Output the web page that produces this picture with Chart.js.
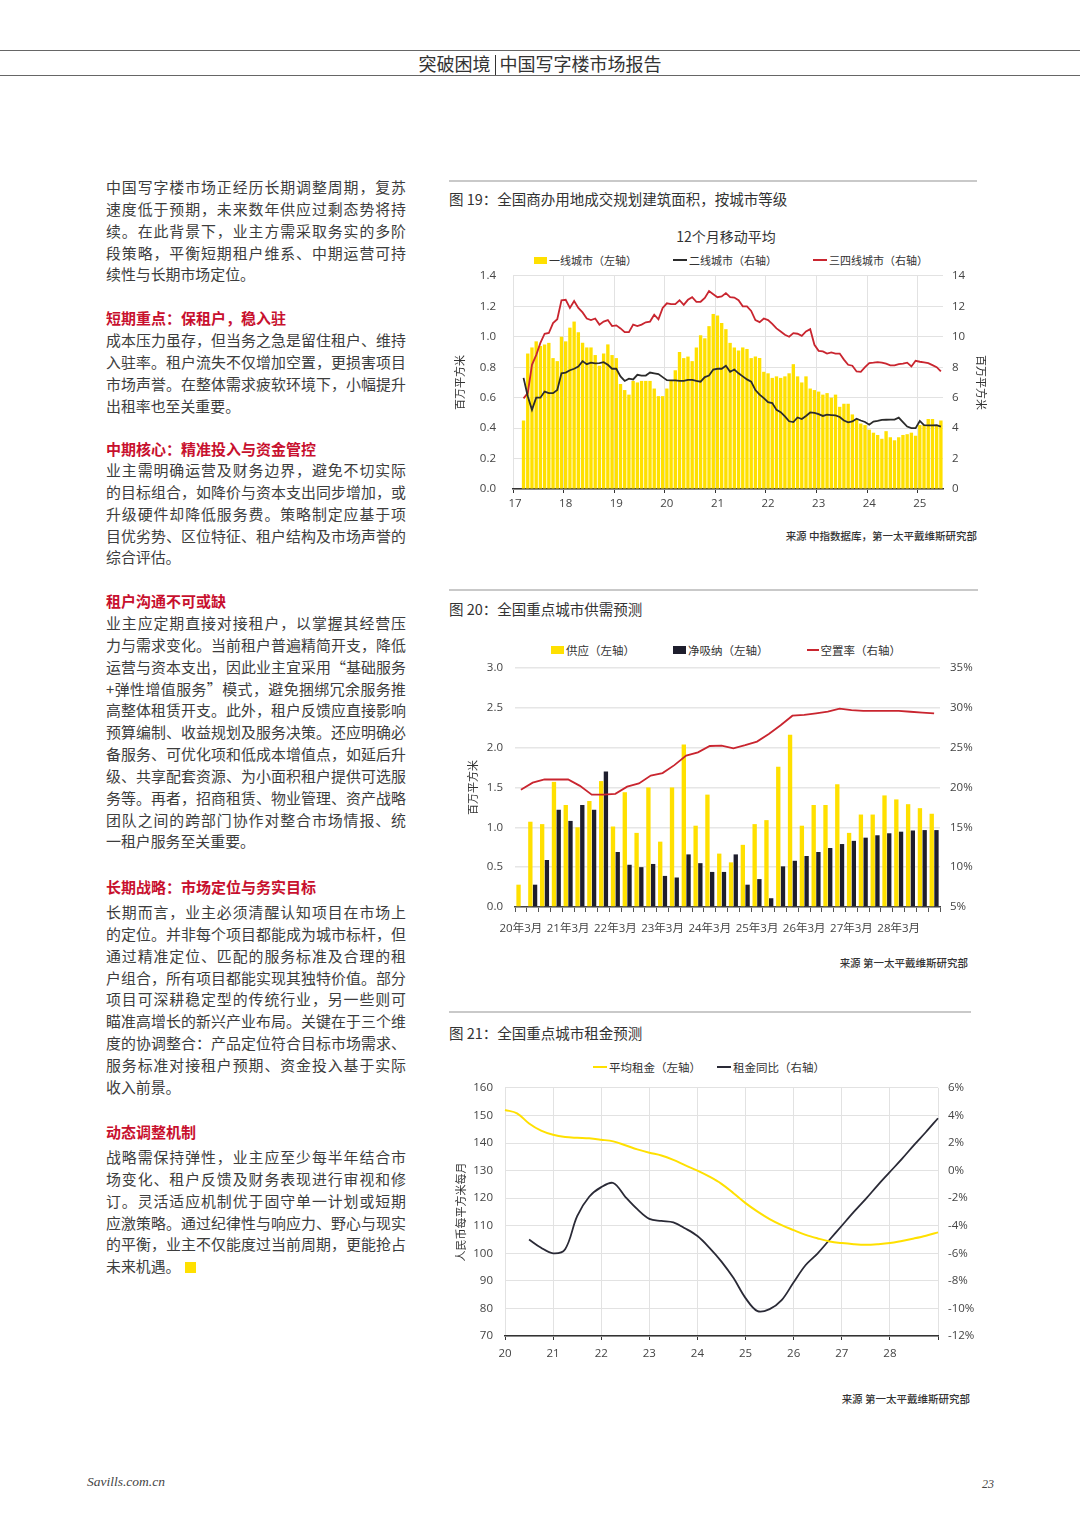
<!DOCTYPE html>
<html lang="zh-CN">
<head>
<meta charset="UTF-8">
<title>突破困境 | 中国写字楼市场报告</title>
<script src="https://cdn.jsdelivr.net/npm/chart.js@4.4.1/dist/chart.umd.min.js"></script>
<style>
  html, body { margin: 0; padding: 0; background: #fff; }
  body {
    width: 1080px; height: 1527px; position: relative; overflow: hidden;
    font-family: 'Noto Sans CJK SC', sans-serif; color: #3d3d3d;
  }
  .rule { position: absolute; left: 0; width: 1080px; height: 0; border-top: 1.5px solid #666; }
  #head {
    position: absolute; top: 52px; left: 0; width: 1080px; text-align: center;
    font-size: 18px; line-height: 22px; color: #333;
  }
  #head .bar { display: inline-block; width: 1px; height: 20px; background: #333; margin: 0 4px; vertical-align: -4px; }

  .col { position: absolute; left: 106px; width: 300px; font-size: 14.9px; line-height: 21.85px; }
  .col .l { display: block; text-align: justify; text-align-last: justify; white-space: nowrap; }
  .col .e { display: block; white-space: nowrap; }
  .col.h { font-weight: 700; color: #c8102e; font-size: 15px; }
  .endmark { display: inline-block; width: 11px; height: 11px; background: #FFE000; margin-left: 5px; vertical-align: -1px; }

  .sep { position: absolute; height: 2px; background: #c9c9c9; }
  .ctitle { position: absolute; left: 449px; font-size: 14.5px; line-height: 20px; color: #333; white-space: nowrap; }
  .src { position: absolute; font-size: 10.5px; line-height: 14px; color: #333; font-weight: 500; white-space: nowrap; text-align: right; }
  .sub { position: absolute; font-size: 14px; line-height: 18px; color: #333; text-align: center; width: 300px; }

  .legend {
    position: absolute; width: 600px; height: 16px; display: flex; justify-content: center; align-items: center;
    font-family: 'Open Sans', 'Noto Sans CJK SC', sans-serif; font-size: 11.5px; color: #333; white-space: nowrap;
  }
  .legend .item { display: flex; align-items: center; }
  .legend .mk { display: inline-block; margin-right: 2px; }

  canvas { position: absolute; }
  .foot { position: absolute; font-family: 'Liberation Serif', serif; font-style: italic; color: #444; }
</style>
</head>
<body>

<div class="rule" style="top:50px"></div>
<div id="head">突破困境<span class="bar"></span>中国写字楼市场报告</div>
<div class="rule" style="top:75px"></div>

<!-- left text column -->
<div class="col" style="top:176px">
  <span class="l">中国写字楼市场正经历长期调整周期，复苏</span>
  <span class="l">速度低于预期，未来数年供应过剩态势将持</span>
  <span class="l">续。在此背景下，业主方需采取务实的多阶</span>
  <span class="l">段策略，平衡短期租户维系、中期运营可持</span>
  <span class="e">续性与长期市场定位。</span>
</div>

<div class="col h" style="top:307px">短期重点：保租户，稳入驻</div>
<div class="col" style="top:329px">
  <span class="l">成本压力虽存，但当务之急是留住租户、维持</span>
  <span class="l">入驻率。租户流失不仅增加空置，更损害项目</span>
  <span class="l">市场声誉。在整体需求疲软环境下，小幅提升</span>
  <span class="e">出租率也至关重要。</span>
</div>

<div class="col h" style="top:438px">中期核心：精准投入与资金管控</div>
<div class="col" style="top:459px">
  <span class="l">业主需明确运营及财务边界，避免不切实际</span>
  <span class="l">的目标组合，如降价与资本支出同步增加，或</span>
  <span class="l">升级硬件却降低服务费。策略制定应基于项</span>
  <span class="l">目优劣势、区位特征、租户结构及市场声誉的</span>
  <span class="e">综合评估。</span>
</div>

<div class="col h" style="top:590px">租户沟通不可或缺</div>
<div class="col" style="top:612px">
  <span class="l">业主应定期直接对接租户，以掌握其经营压</span>
  <span class="l">力与需求变化。当前租户普遍精简开支，降低</span>
  <span class="l">运营与资本支出，因此业主宜采用“基础服务</span>
  <span class="l">+弹性增值服务”模式，避免捆绑冗余服务推</span>
  <span class="l">高整体租赁开支。此外，租户反馈应直接影响</span>
  <span class="l">预算编制、收益规划及服务决策。还应明确必</span>
  <span class="l">备服务、可优化项和低成本增值点，如延后升</span>
  <span class="l">级、共享配套资源、为小面积租户提供可选服</span>
  <span class="l">务等。再者，招商租赁、物业管理、资产战略</span>
  <span class="l">团队之间的跨部门协作对整合市场情报、统</span>
  <span class="e">一租户服务至关重要。</span>
</div>

<div class="col h" style="top:876px">长期战略：市场定位与务实目标</div>
<div class="col" style="top:901px">
  <span class="l">长期而言，业主必须清醒认知项目在市场上</span>
  <span class="l">的定位。并非每个项目都能成为城市标杆，但</span>
  <span class="l">通过精准定位、匹配的服务标准及合理的租</span>
  <span class="l">户组合，所有项目都能实现其独特价值。部分</span>
  <span class="l">项目可深耕稳定型的传统行业，另一些则可</span>
  <span class="l">瞄准高增长的新兴产业布局。关键在于三个维</span>
  <span class="l">度的协调整合：产品定位符合目标市场需求、</span>
  <span class="l">服务标准对接租户预期、资金投入基于实际</span>
  <span class="e">收入前景。</span>
</div>

<div class="col h" style="top:1121px">动态调整机制</div>
<div class="col" style="top:1146px">
  <span class="l">战略需保持弹性，业主应至少每半年结合市</span>
  <span class="l">场变化、租户反馈及财务表现进行审视和修</span>
  <span class="l">订。灵活适应机制优于固守单一计划或短期</span>
  <span class="l">应激策略。通过纪律性与响应力、野心与现实</span>
  <span class="l">的平衡，业主不仅能度过当前周期，更能抢占</span>
  <span class="e">未来机遇。<i class="endmark"></i></span>
</div>

<!-- 图 19 -->
<div class="sep" style="top:180px; left:449px; width:528px"></div>
<div class="ctitle" style="top:189px">图 19：全国商办用地成交规划建筑面积，按城市等级</div>
<div class="sub" style="left:576px; top:227px">12个月移动平均</div>
<div class="legend" id="lg19" style="left:431px; top:252px; font-size:11px"></div>
<canvas id="c19" width="555" height="266" style="left:440px; top:252px"></canvas>
<div class="src" style="right:103px; top:529px">来源 中指数据库，第一太平戴维斯研究部</div>

<!-- 图 20 -->
<div class="sep" style="top:589px; left:449px; width:529px"></div>
<div class="ctitle" style="top:599px">图 20：全国重点城市供需预测</div>
<div class="legend" id="lg20" style="left:426px; top:642px"></div>
<canvas id="c20" width="555" height="295" style="left:440px; top:649px"></canvas>
<div class="src" style="right:112px; top:956px">来源 第一太平戴维斯研究部</div>

<!-- 图 21 -->
<div class="sep" style="top:1011px; left:449px; width:522px"></div>
<div class="ctitle" style="top:1023px">图 21：全国重点城市租金预测</div>
<div class="legend" id="lg21" style="left:409px; top:1059px"></div>
<canvas id="c21" width="555" height="298" style="left:440px; top:1069px"></canvas>
<div class="src" style="right:110px; top:1392px">来源 第一太平戴维斯研究部</div>

<div class="foot" style="left:87px; top:1474px; font-size:13.5px">Savills.com.cn</div>
<div class="foot" style="left:982px; top:1477px; font-size:12px">23</div>

<script>
// ---------- 图19：全国商办用地成交规划建筑面积（12个月移动平均），2017-01 .. 2025-06 ----------
const years19 = ['17', '18', '19', '20', '21', '22', '23', '24', '25'];
const months19 = [];
years19.forEach(y => {
  for (let m = 1; m <= 12; m++) {
    if (y === '25' && m > 6) break;
    months19.push(y + '-' + String(m).padStart(2, '0'));
  }
});

// 一线城市（左轴，百万平方米）
const tier1 = [null, null,
  0.45, 0.89, 0.93, 0.97, 0.94, 0.95, 0.96, 0.86, 0.84, 1.00,
  0.97, 1.06, 1.10, 1.03, 0.96, 0.93, 0.93, 0.88, 0.81, 0.89, 0.95, 0.88,
  0.86, 0.69, 0.65, 0.62, 0.71, 0.70, 0.71, 0.71, 0.71, 0.66, 0.61, 0.61,
  0.66, 0.71, 0.78, 0.90, 0.86, 0.87, 0.84, 0.93, 1.01, 0.99, 1.07, 1.15,
  1.14, 1.09, 1.05, 0.96, 0.93, 0.91, 0.93, 0.92, 0.86, 0.87, 0.86, 0.77,
  0.76, 0.73, 0.74, 0.73, 0.74, 0.76, 0.82, 0.74, 0.70, 0.74, 0.66, 0.65,
  0.64, 0.62, 0.63, 0.60, 0.62, 0.54, 0.56, 0.56, 0.49, 0.46, 0.43, 0.42,
  0.39, 0.37, 0.355, 0.33, 0.38, 0.34, 0.32, 0.34, 0.355, 0.36, 0.37, 0.35,
  0.42, 0.42, 0.46, 0.46, 0.42, 0.45];

// 二线城市（右轴）
const tier2 = [null, null,
  7.3, 6.1, 5.2, 6.0, 6.0, 6.4, 6.3, 6.3, 6.5, 7.6,
  7.65, 7.8, 7.9, 8.05, 8.4, 8.2, 8.3, 8.25, 8.27, 8.33, 8.16, 7.9,
  7.9, 7.4, 7.1, 7.25, 7.2, 7.5, 7.45, 7.45, 7.65, 7.6, 7.55, 7.35,
  7.15, 7.13, 7.13, 7.1, 7.1, 7.17, 7.17, 7.1, 7.05, 7.35, 7.45, 7.85,
  7.9, 7.9, 8.1, 7.7, 7.85, 7.6, 7.4, 7.2, 7.05, 6.5, 6.2, 5.97,
  5.7, 5.65, 5.2, 5.05, 4.77, 4.45, 4.4, 4.7, 4.6, 4.8, 5.03, 5.0,
  4.92, 4.8, 4.88, 4.86, 4.84, 4.73, 4.5, 4.38, 4.44, 4.62, 4.5, 4.4,
  4.22, 4.43, 4.47, 4.54, 4.55, 4.56, 4.56, 4.69, 4.39, 4.1, 4.0, 4.0,
  4.47, 4.2, 4.18, 4.18, 4.2, 4.1];

// 三四线城市（右轴）
const tier34 = [null, null,
  5.95, 6.3, 8.16, 8.8, 9.6, 10.2, 10.25, 10.9, 11.15, 12.4,
  12.43, 11.9, 12.35, 11.9, 11.6, 11.2, 11.1, 11.2, 10.8, 11.0, 11.1, 10.7,
  10.75, 10.55, 10.3, 10.3, 10.8, 10.7, 10.8, 10.95, 11.0, 11.45, 11.15, 11.9,
  12.2, 12.15, 12.15, 12.4, 12.1, 12.43, 12.6, 12.3, 12.3, 12.55, 13.0, 12.8,
  12.6, 12.65, 12.87, 12.6, 12.58, 12.4, 12.0, 12.0, 11.7, 11.1, 10.96, 11.2,
  11.1, 10.85, 10.55, 10.35, 10.13, 10.0, 10.24, 10.2, 10.06, 10.35, 10.5, 9.47,
  9.08, 9.04, 8.9, 8.97, 8.9, 8.9, 8.5, 8.16, 8.1, 7.72, 7.7, 8.0,
  8.27, 8.3, 8.34, 8.3, 8.23, 8.12, 8.12, 8.2, 8.23, 8.3, 8.05, 8.42,
  8.36, 8.32, 8.27, 8.14, 8.0, 7.72];

// ---------- 图20：全国重点城市供需预测（季度） ----------
const years20 = ['20', '21', '22', '23', '24', '25', '26', '27', '28'];
const qMonths = ['3月', '6月', '9月', '12月'];
const quarters20 = [];
years20.forEach(y => qMonths.forEach(m => quarters20.push(y + '年' + m)));

const supply20 = [0.28, 1.07, 1.04, 1.57, 1.28, 1.00, 1.33, 1.58, 1.01, 1.44, 0.93, 1.50,
  0.82, 1.50, 2.04, 1.02, 1.41, 0.67, 0.56, 0.78, 1.04, 1.09, 1.76, 2.16,
  1.02, 1.28, 1.28, 1.54, 0.93, 1.16, 1.16, 1.40, 1.35, 1.29, 1.24, 1.17];
const absorb20 = [null, 0.28, 0.59, 1.22, 1.08, 1.28, 1.22, 1.70, 0.69, 0.53, 0.50, 0.54,
  0.39, 0.37, 0.66, 0.55, 0.44, 0.44, 0.66, 0.28, 0.35, 0.11, 0.51, 0.58,
  0.64, 0.69, 0.74, 0.79, 0.83, 0.87, 0.90, 0.925, 0.945, 0.96, 0.965, 0.965];
const vacancy20 = [19.7, 20.6, 21.0, 21.0, 21.0, 20.2, 19.1, 19.1, 19.2, 20.1, 20.5, 21.5,
  21.8, 22.8, 24.0, 24.4, 25.2, 25.25, 24.9, 25.3, 25.75, 26.7, 27.8, 29.0,
  29.1, 29.3, 29.5, 29.9, 29.7, 29.6, 29.6, 29.6, 29.6, 29.5, 29.4, 29.3];

// ---------- 图21：全国重点城市租金预测（季度，20Q1 .. 29Q1） ----------
const years21 = ['20', '21', '22', '23', '24', '25', '26', '27', '28'];
const quarters21 = [];
years21.forEach(y => ['Q1', 'Q2', 'Q3', 'Q4'].forEach(q => quarters21.push(y + q)));
quarters21.push('29Q1');

const rent21 = [152.0, 150.8, 147.1, 144.5, 143.0, 142.2, 141.9, 141.7, 141.2, 140.6, 139.2, 137.7,
  136.5, 135.5, 133.9, 131.9, 130.0, 127.8, 125.2, 121.8, 118.2, 115.1, 112.4, 110.2,
  108.4, 106.7, 105.4, 104.3, 103.7, 103.3, 103.1, 103.3, 103.7, 104.5, 105.4, 106.4, 107.6];
const yoy21 = [null, null, -5.0, -5.6, -6.0, -5.7, -3.3, -1.9, -1.2, -0.9, -1.9, -2.8,
  -3.5, -3.65, -3.75, -4.2, -4.75, -5.6, -6.6, -7.8, -9.25, -10.2, -10.05, -9.4,
  -8.1, -6.85, -6.0, -5.0, -4.0, -3.0, -2.05, -1.05, -0.1, 0.85, 1.85, 2.8, 3.8];

const YELLOW = '#FFE000';
const RED = '#c9252f';
const DARK = '#2b2b2b';
const NAVY = '#1e1e2d';
const GRID = '#e2e2e2';
const CLEAR = 'rgba(0,0,0,0)';

Chart.defaults.font.family = "'Open Sans', 'Noto Sans CJK SC', sans-serif";
Chart.defaults.font.size = 11.5;
Chart.defaults.color = '#444';
Chart.defaults.animation = false;

const noChrome = {
  legend: { display: false },
  title: { display: false },
  tooltip: { enabled: false }
};
const axisTitleFont = { size: 11 };

// html legend built from the chart's own datasets
function buildLegend(chart, id, gap, box) {
  const el = document.getElementById(id);
  el.style.gap = gap + 'px';
  chart.data.datasets.forEach(ds => {
    const item = document.createElement('span');
    item.className = 'item';
    const mk = document.createElement('i');
    mk.className = 'mk';
    const isBar = (ds.type || chart.config.type) === 'bar';
    mk.style.width = (isBar ? box[0] : box[2]) + 'px';
    mk.style.height = (isBar ? box[1] : 2) + 'px';
    mk.style.background = isBar ? ds.backgroundColor : ds.borderColor;
    item.appendChild(mk);
    item.appendChild(document.createTextNode(ds.label));
    el.appendChild(item);
  });
}

// ---- chart 19 ----
const c19 = new Chart(document.getElementById('c19'), {
  type: 'bar',
  data: {
    labels: months19,
    datasets: [
      { type: 'bar', label: '一线城市（左轴）', data: tier1, yAxisID: 'yL',
        backgroundColor: YELLOW, barPercentage: 0.8, categoryPercentage: 1, order: 3 },
      { type: 'line', label: '二线城市（右轴）', data: tier2, yAxisID: 'yR',
        borderColor: DARK, borderWidth: 1.8, pointRadius: 0, tension: 0, order: 1 },
      { type: 'line', label: '三四线城市（右轴）', data: tier34, yAxisID: 'yR',
        borderColor: RED, borderWidth: 1.8, pointRadius: 0, tension: 0, order: 2 }
    ]
  },
  options: {
    responsive: false,
    layout: { padding: { top: 10, left: 0, right: 0, bottom: 0 } },
    plugins: noChrome,
    scales: {
      x: {
        grid: {
          offset: true, lineWidth: 1, tickLength: 4,
          color: c => (c.tick && c.tick.label) ? GRID : CLEAR,
          tickColor: c => (c.tick && c.tick.label) ? '#333' : CLEAR
        },
        border: { color: '#333', width: 1.5 },
        ticks: {
          autoSkip: false, maxRotation: 0, padding: 4,
          callback: (v, i) => months19[i].endsWith('-01') ? months19[i].slice(0, 2) : ''
        },
        afterFit: s => { s.height = 29; }
      },
      yL: {
        position: 'left', min: 0, max: 1.4,
        ticks: { stepSize: 0.2, padding: 17, callback: v => v.toFixed(1) },
        grid: { color: GRID, drawTicks: false },
        border: { display: false },
        title: { display: true, text: '百万平方米', color: '#333', font: axisTitleFont, padding: { top: 14, bottom: 0 } },
        afterFit: s => { s.width = 73; }
      },
      yR: {
        position: 'right', min: 0, max: 14,
        ticks: { stepSize: 2, padding: 9 },
        grid: { display: false, drawTicks: false },
        border: { display: false },
        title: { display: true, text: '百万平方米', color: '#333', font: axisTitleFont, padding: { top: 8, bottom: 0 } },
        afterFit: s => { s.width = 52; }
      }
    }
  }
});
buildLegend(c19, 'lg19', 36, [13, 7, 14]);

// ---- chart 20 ----
const c20 = new Chart(document.getElementById('c20'), {
  type: 'bar',
  data: {
    labels: quarters20,
    datasets: [
      { type: 'bar', label: '供应（左轴）', data: supply20, yAxisID: 'yL',
        backgroundColor: YELLOW, barPercentage: 0.92, categoryPercentage: 0.8, order: 2 },
      { type: 'bar', label: '净吸纳（左轴）', data: absorb20, yAxisID: 'yL',
        backgroundColor: NAVY, barPercentage: 0.92, categoryPercentage: 0.8, order: 2 },
      { type: 'line', label: '空置率（右轴）', data: vacancy20, yAxisID: 'yR',
        borderColor: RED, borderWidth: 1.8, pointRadius: 0, tension: 0, order: 1 }
    ]
  },
  options: {
    responsive: false,
    layout: { padding: { top: 10, left: 0, right: 0, bottom: 0 } },
    plugins: noChrome,
    scales: {
      x: {
        grid: { offset: true, drawOnChartArea: false, tickLength: 5, tickColor: '#555' },
        border: { color: '#444', width: 1.5 },
        ticks: {
          autoSkip: false, maxRotation: 0, padding: 10,
          callback: (v, i) => i % 4 === 0 ? quarters20[i] : ''
        },
        afterFit: s => { s.height = 37; }
      },
      yL: {
        position: 'left', min: 0, max: 3,
        ticks: { stepSize: 0.5, padding: 12, callback: v => v.toFixed(1) },
        grid: { color: '#e6e6e6', lineWidth: 1.5, drawTicks: false },
        border: { display: false },
        title: { display: true, text: '百万平方米', color: '#333', font: axisTitleFont, padding: { top: 27, bottom: 0 } },
        afterFit: s => { s.width = 75; }
      },
      yR: {
        position: 'right', min: 5, max: 35,
        ticks: { stepSize: 5, padding: 10, callback: v => v + '%' },
        grid: { display: false, drawTicks: false },
        border: { display: false },
        afterFit: s => { s.width = 55; }
      }
    }
  }
});
buildLegend(c20, 'lg20', 38, [13, 8, 12]);

// ---- chart 21 ----
const c21 = new Chart(document.getElementById('c21'), {
  type: 'line',
  data: {
    labels: quarters21,
    datasets: [
      { label: '平均租金（左轴）', data: rent21, yAxisID: 'yL',
        borderColor: YELLOW, borderWidth: 2, pointRadius: 0, tension: 0.35 },
      { label: '租金同比（右轴）', data: yoy21, yAxisID: 'yR',
        borderColor: '#2a2a36', borderWidth: 1.8, pointRadius: 0, tension: 0.35 }
    ]
  },
  options: {
    responsive: false,
    layout: { padding: { top: 10, left: 0, right: 0, bottom: 0 } },
    plugins: noChrome,
    scales: {
      x: {
        offset: false,
        grid: {
          lineWidth: 1, tickLength: 4,
          color: c => (c.index % 4 === 0) ? GRID : CLEAR,
          tickColor: c => (c.index % 4 === 0) ? '#333' : CLEAR
        },
        border: { color: '#333', width: 1.5 },
        ticks: {
          autoSkip: false, maxRotation: 0, padding: 7,
          callback: (v, i) => (quarters21[i].endsWith('Q1') && i < 36) ? quarters21[i].slice(0, 2) : ''
        },
        afterFit: s => { s.height = 31; }
      },
      yL: {
        position: 'left', min: 70, max: 160,
        ticks: { stepSize: 10, padding: 12 },
        grid: { color: GRID, drawTicks: false },
        border: { display: false },
        title: { display: true, text: '人民币每平方米每月', color: '#333', font: axisTitleFont, padding: { top: 15, bottom: 0 } },
        afterFit: s => { s.width = 65; }
      },
      yR: {
        position: 'right', min: -12, max: 6,
        ticks: { stepSize: 2, padding: 10, callback: v => v + '%' },
        grid: { display: false, drawTicks: false },
        border: { display: false },
        afterFit: s => { s.width = 57; }
      }
    }
  }
});
buildLegend(c21, 'lg21', 16, [13, 8, 14]);
</script>
</body>
</html>
